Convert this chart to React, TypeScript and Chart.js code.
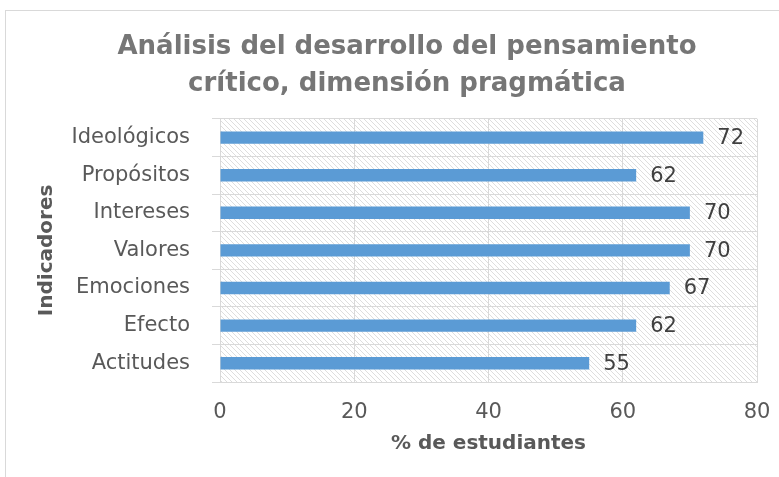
import React, { useEffect, useRef } from "react";
import { Chart, registerables } from "chart.js";

Chart.register(...registerables);

const categories = ["Ideológicos", "Propósitos", "Intereses", "Valores", "Emociones", "Efecto", "Actitudes"];
const values = [72, 62, 70, 70, 67, 62, 55];
const xTicks = [0, 20, 40, 60, 80];
const titleLines = ["Análisis del desarrollo del pensamiento", "crítico, dimensión pragmática"];
const xTitle = "% de estudiantes";
const yTitle = "Indicadores";

const FONT = "'DejaVu Sans', Verdana, sans-serif";

function makePattern(): CanvasPattern | string {
  const s = 5;
  const c = document.createElement("canvas");
  c.width = s;
  c.height = s;
  const g = c.getContext("2d");
  if (!g) return "#fff";
  g.fillStyle = "#ffffff";
  g.fillRect(0, 0, s, s);
  g.strokeStyle = "#dedede";
  g.lineWidth = 1;
  g.beginPath();
  g.moveTo(-1, -1);
  g.lineTo(s + 1, s + 1);
  g.moveTo(-1, s - 1);
  g.lineTo(1, s + 1);
  g.moveTo(s - 1, -1);
  g.lineTo(s + 1, 1);
  g.stroke();
  const p = g.createPattern(c, "repeat");
  return p || "#fff";
}

const hatchPlugin = {
  id: "hatch",
  beforeDraw(chart: any) {
    const { ctx, chartArea } = chart;
    if (!chartArea) return;
    ctx.save();
    ctx.fillStyle = makePattern();
    ctx.fillRect(chartArea.left, chartArea.top, chartArea.right - chartArea.left, chartArea.bottom - chartArea.top);
    ctx.restore();
  },
};

const labelPlugin = {
  id: "valueLabels",
  afterDatasetsDraw(chart: any) {
    const { ctx } = chart;
    const meta = chart.getDatasetMeta(0);
    ctx.save();
    ctx.font = `21px ${FONT}`;
    ctx.fillStyle = "#404040";
    ctx.textAlign = "left";
    ctx.textBaseline = "middle";
    meta.data.forEach((el: any, i: number) => {
      ctx.fillText(String(values[i]), el.x + 14, el.y + 1);
    });
    ctx.restore();
  },
};

export default function App() {
  const ref = useRef<HTMLCanvasElement | null>(null);

  useEffect(() => {
    document.body.style.margin = "0";
    if (!ref.current) return;
    const chart = new Chart(ref.current, {
      type: "bar",
      data: {
        labels: categories,
        datasets: [
          {
            data: values,
            backgroundColor: "#5b9bd5",
            borderWidth: 0,
            barPercentage: 0.33,
            categoryPercentage: 1,
          },
        ],
      },
      options: {
        indexAxis: "y",
        animation: false,
        responsive: false,
        maintainAspectRatio: false,
        layout: { padding: { top: 10, left: 35, right: 0, bottom: 21 } },
        plugins: {
          legend: { display: false },
          tooltip: { enabled: false },
          title: {
            display: true,
            text: titleLines,
            color: "#767676",
            font: { family: FONT, size: 26, weight: "bold", lineHeight: 1.42 },
            padding: { top: 19, bottom: 16 },
          },
        },
        scales: {
          x: {
            min: xTicks[0],
            max: xTicks[xTicks.length - 1],
            afterBuildTicks: (s: any) => {
              s.ticks = xTicks.map((v) => ({ value: v }));
            },
            afterFit: (s: any) => {
              s.height = 74;
              s.paddingRight = 22;
            },
            ticks: { color: "#595959", font: { family: FONT, size: 21 }, padding: 18, maxRotation: 0 },
            grid: { color: "#d9d9d9", drawTicks: false },
            border: { color: "#d9d9d9" },
            title: {
              display: true,
              text: xTitle,
              color: "#595959",
              font: { family: FONT, size: 20, weight: "bold" },
              padding: { top: 0, bottom: 0 },
            },
          },
          y: {
            afterFit: (s: any) => {
              s.width = 185;
            },
            ticks: { color: "#595959", font: { family: FONT, size: 21 }, padding: 22 },
            grid: { color: "#d9d9d9", offset: true, tickLength: 8 },
            border: { color: "#d9d9d9" },
            title: {
              display: true,
              text: yTitle,
              color: "#595959",
              font: { family: FONT, size: 20, weight: "bold" },
              padding: { top: 0, bottom: 6 },
            },
          },
        },
      },
      plugins: [hatchPlugin, labelPlugin],
    });
    return () => chart.destroy();
  }, []);

  return (
    <div style={{ position: "fixed", left: 0, top: 0, width: 779, height: 477, overflow: "hidden", background: "#fff" }}>
      <div
        style={{
          position: "absolute",
          left: 5,
          top: 10,
          width: 900,
          height: 600,
          border: "1px solid #d9d9d9",
        }}
      />
      <canvas ref={ref} width={779} height={477} style={{ position: "absolute", left: 0, top: 0, width: 779, height: 477 }} />
    </div>
  );
}
